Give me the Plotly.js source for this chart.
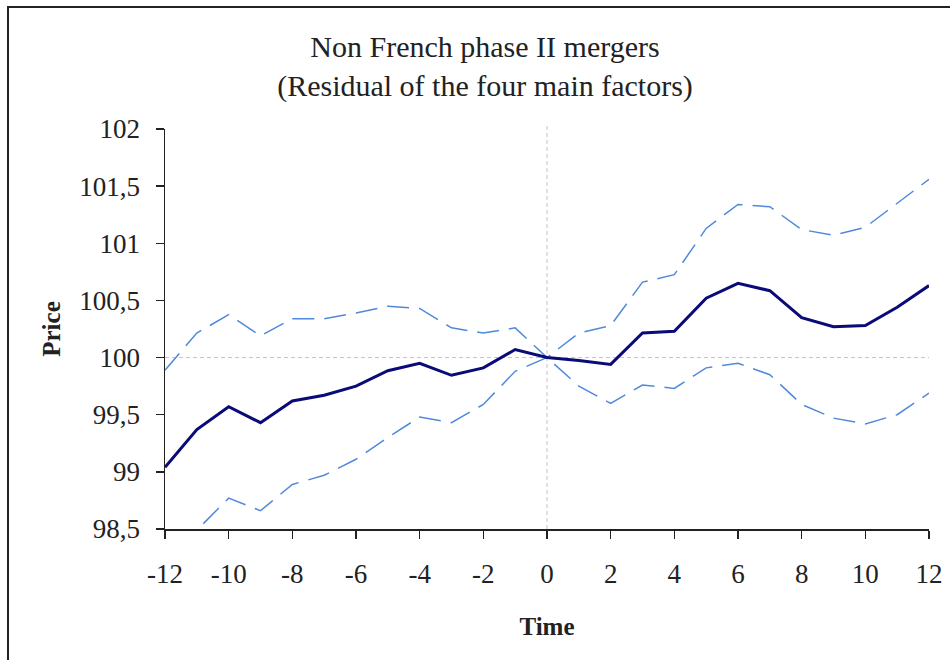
<!DOCTYPE html>
<html>
<head>
<meta charset="utf-8">
<script src="https://cdn.plot.ly/plotly-3.0.1.min.js"></script>
<style>
  html, body { margin: 0; padding: 0; background: #fff; }
  #wrap { position: relative; width: 950px; height: 660px; overflow: hidden; }
  #chart { position: absolute; left: 0; top: 0; width: 950px; height: 660px; }
  #frame { position: absolute; left: 7px; top: 6px; width: 1000px; height: 700px;
           border: 2px solid #222; pointer-events: none; box-sizing: border-box; }
</style>
</head>
<body>
<div id="wrap">
  <div id="chart"></div>
  <div id="frame"></div>
</div>
<script>
const time = [-12,-11,-10,-9,-8,-7,-6,-5,-4,-3,-2,-1,0,1,2,3,4,5,6,7,8,9,10,11,12];
const price = [99.04,99.37,99.57,99.43,99.62,99.67,99.75,99.885,99.95,99.845,99.91,100.07,100,
               99.975,99.94,100.215,100.23,100.52,100.65,100.585,100.35,100.27,100.28,100.44,100.63];
const upper = [99.89,100.215,100.375,100.19,100.34,100.34,100.39,100.45,100.43,100.26,100.215,100.26,100,
               100.215,100.28,100.66,100.725,101.13,101.34,101.32,101.12,101.07,101.14,101.35,101.56];
const lower = [98.1,98.49,98.77,98.66,98.89,98.97,99.11,99.30,99.48,99.43,99.59,99.88,100,
               99.75,99.60,99.76,99.73,99.91,99.95,99.85,99.59,99.47,99.42,99.50,99.69];
const yTickVals = [98.5,99,99.5,100,100.5,101,101.5,102];
const yTickText = ["98,5","99","99,5","100","100,5","101","101,5","102"];
const xTickVals = [-12,-10,-8,-6,-4,-2,0,2,4,6,8,10,12];
const xTickText = ["-12","-10","-8","-6","-4","-2","0","2","4","6","8","10","12"];

const serif = "Liberation Serif, Times New Roman, serif";
const bandLine = {color: '#5089dc', width: 1.5, dash: '22px,10px'};

const traces = [
  {x: time, y: upper, type: 'scatter', mode: 'lines', line: bandLine, hoverinfo: 'skip'},
  {x: time, y: lower, type: 'scatter', mode: 'lines', line: bandLine, hoverinfo: 'skip'},
  {x: time, y: price, type: 'scatter', mode: 'lines', line: {color: '#0a0a78', width: 3}}
];

const layout = {
  width: 950, height: 660,
  margin: {l: 165, r: 21, t: 129, b: 131},
  paper_bgcolor: '#fff', plot_bgcolor: '#fff',
  showlegend: false,
  font: {family: serif, size: 27, color: '#222'},
  title: {
    text: 'Non French phase II mergers<br>(Residual of the four main factors)',
    font: {family: serif, size: 30, color: '#222'},
    xref: 'container', x: 485/950, xanchor: 'center',
    yref: 'container', y: 1 - 57/660, yanchor: 'top'
  },
  xaxis: {
    range: [-12, 12], tickmode: 'array', tickvals: xTickVals, ticktext: xTickText,
    showgrid: false, zeroline: false,
    showline: true, linecolor: '#222', linewidth: 1.5,
    ticks: 'outside', ticklen: 8, tickcolor: '#222', tickwidth: 1.5,
    ticklabelstandoff: 12,
    tickfont: {family: serif, size: 27, color: '#222'},
    title: {text: '<b>Time</b>', font: {family: serif, size: 25, color: '#222'}, standoff: 29}
  },
  yaxis: {
    range: [98.5, 102], tickmode: 'array', tickvals: yTickVals, ticktext: yTickText,
    showgrid: false, zeroline: false,
    showline: true, linecolor: '#222', linewidth: 1.5,
    ticks: 'outside', ticklen: 8, tickcolor: '#222', tickwidth: 1.5,
    ticklabelstandoff: 10,
    tickfont: {family: serif, size: 27, color: '#222'},
    title: {text: '<b>Price</b>', font: {family: serif, size: 25, color: '#222'}, standoff: 11}
  },
  shapes: [
    {type: 'line', xref: 'paper', x0: 0, x1: 1, yref: 'y', y0: 100, y1: 100,
     line: {color: '#c4c4c4', width: 1, dash: '4px,3px'}, layer: 'below'},
    {type: 'line', xref: 'x', x0: 0, x1: 0, yref: 'paper', y0: 0, y1: 1.01,
     line: {color: '#c4c4c4', width: 1, dash: '4px,3px'}, layer: 'below'}
  ]
};

Plotly.newPlot('chart', traces, layout, {displayModeBar: false, staticPlot: true});
</script>
</body>
</html>
